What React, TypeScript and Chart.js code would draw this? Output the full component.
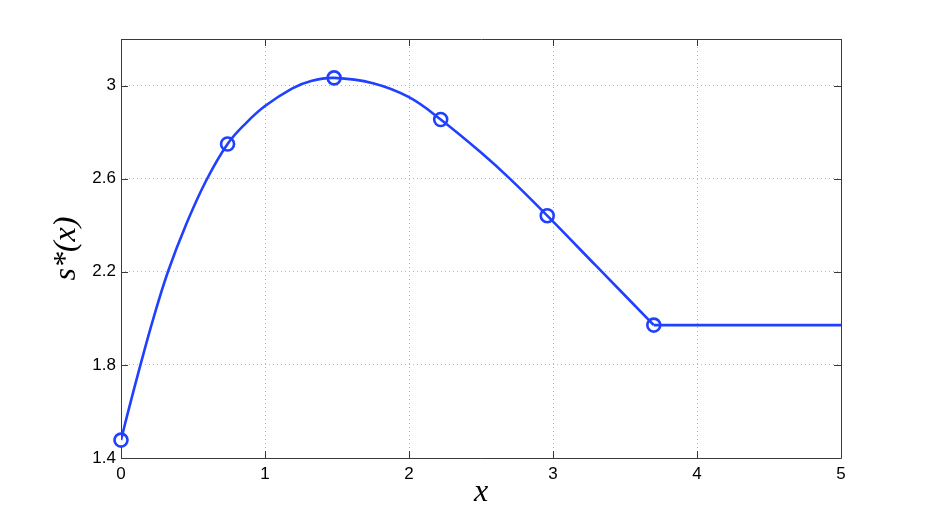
import React, { useEffect, useRef } from "react";
import { Chart, registerables } from "chart.js";

Chart.register(...registerables);

// Smooth part of s*(x)
const curveX = [0, 0.05, 0.135, 0.225, 0.326, 0.45, 0.59, 0.74, 0.87, 1.0, 1.19, 1.32, 1.48, 1.75, 2.0, 2.22, 2.5, 2.7, 2.96, 3.3, 3.7];
const curveY = [1.477, 1.6, 1.8, 2.0, 2.2, 2.4, 2.59, 2.749, 2.84, 2.912, 2.988, 3.02, 3.033, 3.01, 2.95, 2.854, 2.712, 2.6, 2.441, 2.225, 1.971];
// Flat tail
const flatX = [3.7, 5];
const flatY = [1.971, 1.971];
// Circle markers
const markerX = [0, 0.74, 1.48, 2.22, 2.96, 3.7];
const markerY = [1.477, 2.749, 3.033, 2.854, 2.441, 1.971];
// Ticks
const xTicks = [0, 1, 2, 3, 4, 5];
const yTicks = [1.4, 1.8, 2.2, 2.6, 3];

const BLUE = "#2040ff";
const FRAME = "#3a3a3a";

const framePlugin = {
  id: "frame",
  beforeDatasetsDraw(chart: any) {
    const { ctx, chartArea, scales } = chart;
    const { left, right, top, bottom } = chartArea;
    const tl = 7;
    ctx.save();
    ctx.strokeStyle = FRAME;
    ctx.lineWidth = 1;
    ctx.beginPath();
    ctx.rect(left + 0.5, top + 0.5, right - left, bottom - top);
    ctx.stroke();
    ctx.beginPath();
    xTicks.forEach((v) => {
      const p = Math.round(scales.x.getPixelForValue(v)) + 0.5;
      ctx.moveTo(p, bottom);
      ctx.lineTo(p, bottom - tl);
      ctx.moveTo(p, top);
      ctx.lineTo(p, top + tl);
    });
    yTicks.forEach((v) => {
      const p = Math.round(scales.y.getPixelForValue(v)) + 0.5;
      ctx.moveTo(left, p);
      ctx.lineTo(left + tl, p);
      ctx.moveTo(right, p);
      ctx.lineTo(right - tl, p);
    });
    ctx.stroke();
    ctx.restore();
  },
};

export default function App() {
  const ref = useRef<HTMLCanvasElement>(null);

  useEffect(() => {
    if (!ref.current) return;
    const lineStyle = {
      borderColor: BLUE,
      borderWidth: 2.6,
      pointRadius: 0,
      showLine: true,
      fill: false,
    };
    const chart = new Chart(ref.current, {
      type: "scatter",
      data: {
        datasets: [
          {
            ...lineStyle,
            data: curveX.map((x, i) => ({ x, y: curveY[i] })),
            tension: 0.4,
          } as any,
          {
            ...lineStyle,
            data: flatX.map((x, i) => ({ x, y: flatY[i] })),
            tension: 0,
          } as any,
          {
            data: markerX.map((x, i) => ({ x, y: markerY[i] })),
            showLine: false,
            pointRadius: 6.5,
            pointBorderWidth: 2.6,
            pointBorderColor: BLUE,
            pointBackgroundColor: "#ffffff",
            clip: false,
          } as any,
        ],
      },
      options: {
        responsive: false,
        devicePixelRatio: 1,
        animation: false,
        layout: { padding: { left: 0, top: 39, right: 88, bottom: 0 } },
        plugins: {
          legend: { display: false },
          tooltip: { enabled: false },
        },
        scales: {
          x: {
            type: "linear",
            min: 0,
            max: 5,
            afterBuildTicks: (s: any) => {
              s.ticks = xTicks.map((v) => ({ value: v }));
            },
            afterFit: (s: any) => {
              s.height = 58;
            },
            ticks: {
              color: "#000",
              padding: 6,
              font: { family: "Liberation Sans, Arial, sans-serif", size: 17 },
              callback: (v: any) => String(v),
              maxRotation: 0,
            },
            grid: { color: "#b4b4b4", lineWidth: 1, drawTicks: false },
            border: { display: false, dash: [1, 3] },
            title: {
              display: true,
              text: "x",
              color: "#000",
              font: { family: "Liberation Serif, Times New Roman, serif", size: 32, style: "italic" },
              padding: { top: 0, bottom: 4 },
            },
          },
          y: {
            type: "linear",
            min: 1.4,
            max: 3.2,
            afterBuildTicks: (s: any) => {
              s.ticks = yTicks.map((v) => ({ value: v }));
            },
            afterFit: (s: any) => {
              s.width = 121;
            },
            ticks: {
              color: "#000",
              padding: 5,
              font: { family: "Liberation Sans, Arial, sans-serif", size: 17 },
              callback: (v: any) => String(v),
            },
            grid: { color: "#b4b4b4", lineWidth: 1, drawTicks: false },
            border: { display: false, dash: [1, 3] },
            title: {
              display: true,
              text: "s*(x)",
              color: "#000",
              font: { family: "Liberation Serif, Times New Roman, serif", size: 32, style: "italic" },
              padding: { top: 47, bottom: 0 },
            },
          },
        },
      },
      plugins: [framePlugin],
    });
    return () => chart.destroy();
  }, []);

  return (
    <canvas
      ref={ref}
      width={929}
      height={516}
      style={{ position: "fixed", left: 0, top: 0, display: "block", background: "#fff" }}
    />
  );
}
